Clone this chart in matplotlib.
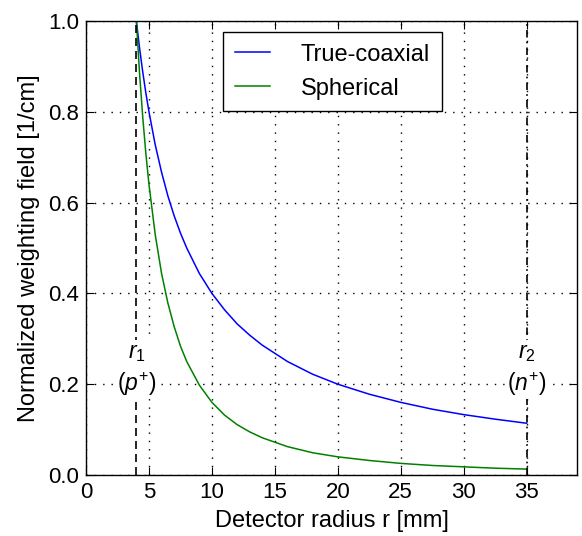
import matplotlib
matplotlib.use("Agg")
import matplotlib.pyplot as plt
import numpy as np

plt.rcParams['font.family'] = ['Liberation Sans', 'DejaVu Sans']
plt.rcParams['mathtext.fontset'] = 'custom'
plt.rcParams['mathtext.rm'] = 'Liberation Sans'
plt.rcParams['mathtext.it'] = 'Liberation Sans:italic'

# Values
radius = [4.0, 4.25, 4.5, 4.75, 5.0, 5.5, 6.0, 6.5, 7.0, 7.5, 8.0, 9.0, 10.0, 11.0, 12.0,
          13.0, 14.0, 16.0, 18.0, 20.0, 22.5, 25.0, 27.5, 30.0, 32.5, 35.0]
true_coaxial = [1.0, 0.941, 0.889, 0.842, 0.80, 0.727, 0.667, 0.615, 0.571, 0.533, 0.50,
                0.444, 0.40, 0.364, 0.333, 0.308, 0.286, 0.25, 0.222, 0.20, 0.178, 0.16,
                0.145, 0.133, 0.123, 0.114]
spherical = [1.0, 0.886, 0.790, 0.709, 0.64, 0.529, 0.444, 0.379, 0.327, 0.284, 0.25,
             0.198, 0.16, 0.132, 0.111, 0.095, 0.082, 0.0625, 0.049, 0.04, 0.032, 0.0256,
             0.021, 0.018, 0.015, 0.013]
r1, r2 = 4.0, 35.0
xticks = [0, 5, 10, 15, 20, 25, 30, 35]
yticks = [0.0, 0.2, 0.4, 0.6, 0.8, 1.0]

fig = plt.figure(figsize=(5.82, 5.36), dpi=100)
ax = fig.add_axes([0.1478, 0.1138, 0.8436, 0.847])

ax.plot(radius, true_coaxial, color='blue', lw=1.1, label='True-coaxial')
ax.plot(radius, spherical, color='green', lw=1.1, label='Spherical')
ax.axvline(r1, color='black', ls=(0, (4.8, 3)), lw=1.2)
ax.axvline(r2, color='black', ls=(0, (4.5, 2.5, 1, 2.5)), lw=1.2)

bbox = dict(facecolor='white', edgecolor='none', pad=1)
ax.text(r1, 0.233, '$r_1$\n$(p^{+})$', ha='center', va='center', fontsize=16.5,
        bbox=bbox, linespacing=1.3)
ax.text(r2, 0.233, '$r_2$\n$(n^{+})$', ha='center', va='center', fontsize=16.5,
        bbox=bbox, linespacing=1.3)

ax.set_xlim(0, 39)
ax.set_ylim(0, 1.0)
ax.set_xticks(xticks)
ax.set_yticks(yticks)
ax.set_yticklabels([f'{v:.1f}' for v in yticks])
ax.grid(True, color='black', ls=(0, (1, 5)), lw=1.0)
ax.tick_params(direction='in', top=True, right=True, labelsize=16, length=6, pad=5)
for s in ax.spines.values():
    s.set_linewidth(1.0)

ax.set_xlabel('Detector radius r [mm]', fontsize=17, labelpad=5)
ax.set_ylabel('Normalized weighting field [1/cm]', fontsize=17, labelpad=6)

leg = ax.legend(loc='upper left', bbox_to_anchor=(0.279, 0.976), borderaxespad=0,
                fontsize=17, fancybox=False, edgecolor='black', framealpha=1,
                handlelength=1.5, handletextpad=1.3, borderpad=0.5, labelspacing=0.5)
leg.get_frame().set_linewidth(1.0)

fig.savefig('out.png', dpi=100)
